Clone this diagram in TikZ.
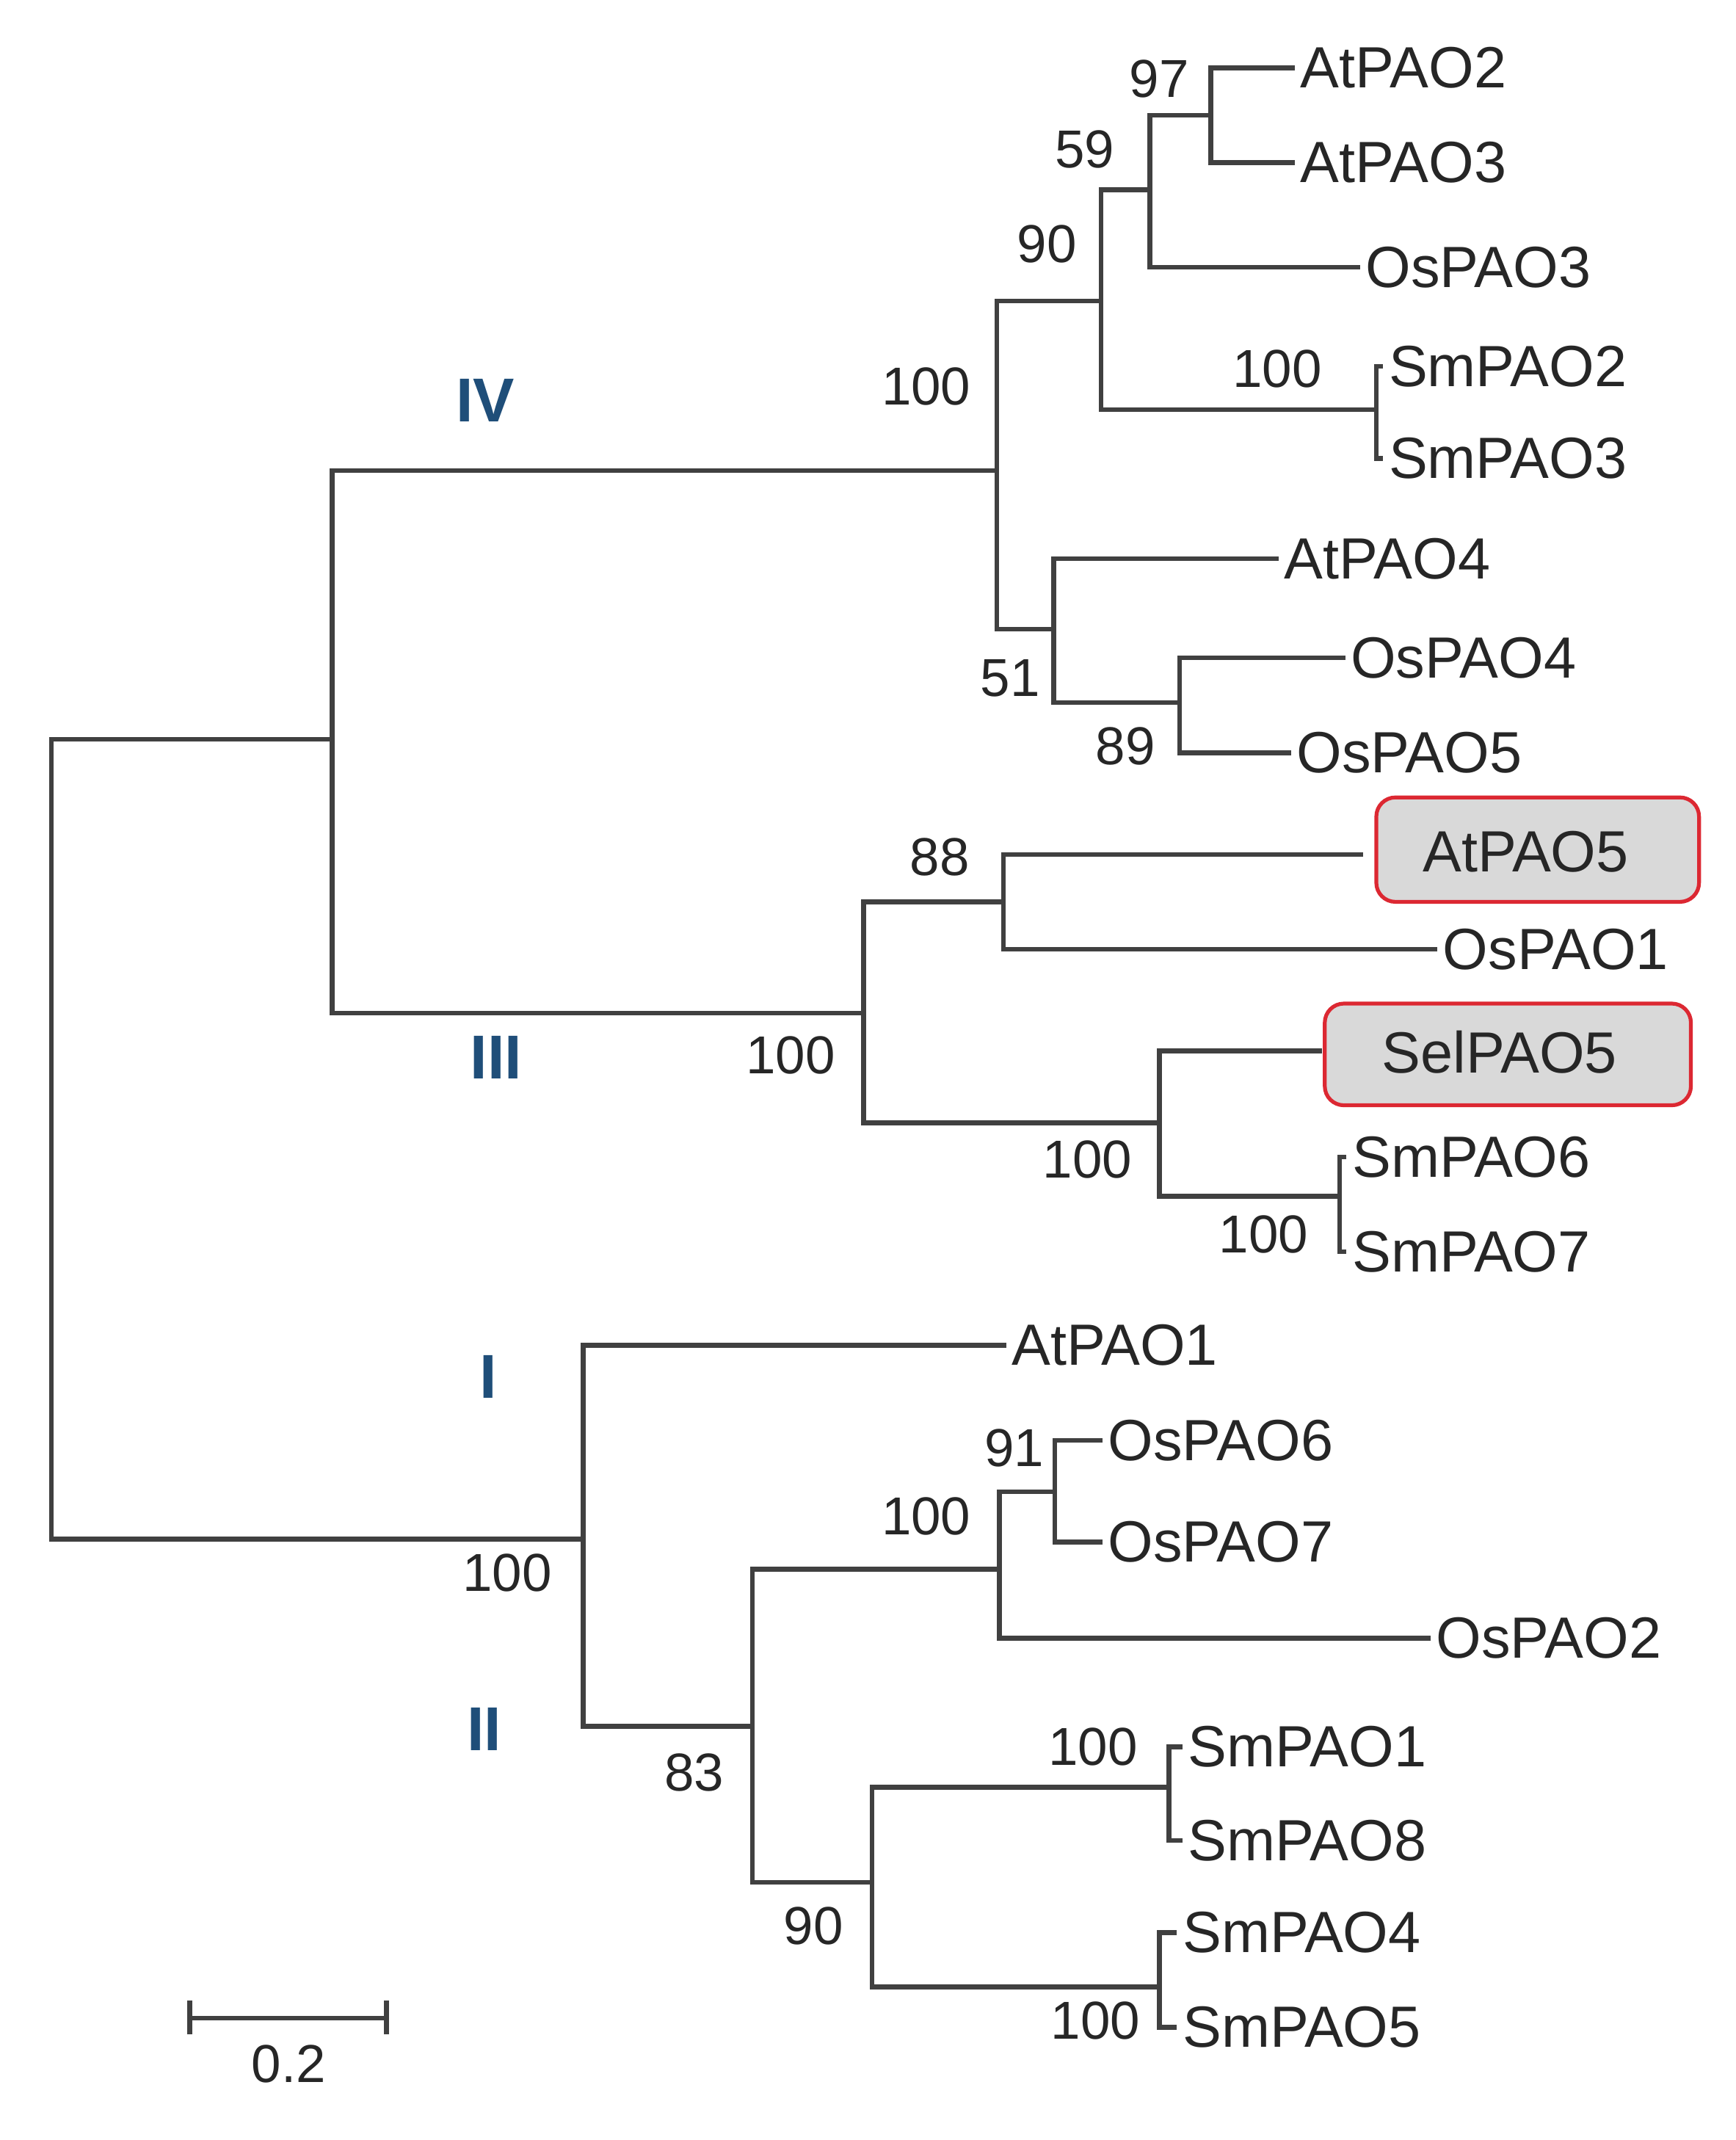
\documentclass[tikz,border=0pt]{standalone}
\usepackage{fontspec}
\setmainfont{Liberation Sans}
\begin{document}
\begin{tikzpicture}[x=0.01cm,y=-0.01cm,
  br/.style={line width=1pt,draw=black!75},
  tip/.style={anchor=west,inner sep=1pt,font=\fontsize{12.2}{14}\selectfont,text=black!85},
  bs/.style={font=\fontsize{11.2}{13}\selectfont,text=black!85,inner sep=0pt},
  cl/.style={font=\bfseries\fontsize{13}{15}\selectfont,text={rgb,255:red,31;green,78;blue,121}},
  hl/.style={draw={rgb,255:red,220;green,40;blue,50},fill=black!15,rounded corners=4pt,line width=0.8pt}]
\useasboundingbox (0,0) rectangle (1280,1578);
% highlight boxes
\draw[hl] (1015,588) rectangle (1253,665);
\draw[hl] (977,740) rectangle (1247,815);
% internal nodes (x of own vertical, y of attachment to parent)
\coordinate (r) at (38,545);
\coordinate (A) at (245,545);
\coordinate (n12) at (430,1135);
\coordinate (n4) at (735,347);
\coordinate (n3) at (637,747);
\coordinate (n90) at (812,222);
\coordinate (n51) at (777,464);
\coordinate (n59) at (848,140);
\coordinate (nsm23) at (1015,302);
\coordinate (n97) at (893,85);
\coordinate (n89) at (870,518);
\coordinate (n88) at (740,665);
\coordinate (nsel) at (855,828);
\coordinate (a5) at (1005,630);
\coordinate (s5) at (975,775);
\coordinate (nsm67) at (988,882);
\coordinate (n83) at (555,1273);
\coordinate (n100b) at (737,1157);
\coordinate (n90b) at (643,1388);
\coordinate (n91) at (778,1100);
\coordinate (nsm18) at (862,1318);
\coordinate (nsm45) at (855,1465);
% tips
\node[tip] (AtPAO2) at (955,50) {AtPAO2};
\node[tip] (AtPAO3) at (955,120) {AtPAO3};
\node[tip] (OsPAO3) at (1003,197) {OsPAO3};
\node[tip] (SmPAO2) at (1020,270) {SmPAO2};
\node[tip] (SmPAO3) at (1020,338) {SmPAO3};
\node[tip] (AtPAO4) at (943,412) {AtPAO4};
\node[tip] (OsPAO4) at (992,485) {OsPAO4};
\node[tip] (OsPAO5) at (952,555) {OsPAO5};
\node[tip] (AtPAO5) at (1045,628) {AtPAO5};
\node[tip] (OsPAO1) at (1060,700) {OsPAO1};
\node[tip] (SelPAO5) at (1015,776) {SelPAO5};
\node[tip] (SmPAO6) at (993,853) {SmPAO6};
\node[tip] (SmPAO7) at (993,923) {SmPAO7};
\node[tip] (AtPAO1) at (742,992) {AtPAO1};
\node[tip] (OsPAO6) at (813,1062) {OsPAO6};
\node[tip] (OsPAO7) at (813,1137) {OsPAO7};
\node[tip] (OsPAO2) at (1055,1208) {OsPAO2};
\node[tip] (SmPAO1) at (872,1288) {SmPAO1};
\node[tip] (SmPAO8) at (872,1357) {SmPAO8};
\node[tip] (SmPAO4) at (868,1425) {SmPAO4};
\node[tip] (SmPAO5) at (868,1495) {SmPAO5};
% branches
\draw[br] (A) -| (r) |- (n12);
\draw[br] (n4) -| (A) |- (n3);
\draw[br] (n90) -| (n4) |- (n51);
\draw[br] (n59) -| (n90) |- (nsm23);
\draw[br] (n97) -| (n59) |- (OsPAO3.west);
\draw[br] (AtPAO2.west) -| (n97) |- (AtPAO3.west);
\draw[br] (SmPAO2.west) -| (nsm23) |- (SmPAO3.west);
\draw[br] (AtPAO4.west) -| (n51) |- (n89);
\draw[br] (OsPAO4.west) -| (n89) |- (OsPAO5.west);
\draw[br] (n88) -| (n3) |- (nsel);
\draw[br] (a5) -| (n88) |- (OsPAO1.west);
\draw[br] (s5) -| (nsel) |- (nsm67);
\draw[br] (SmPAO6.west) -| (nsm67) |- (SmPAO7.west);
\draw[br] (AtPAO1.west) -| (n12) |- (n83);
\draw[br] (n100b) -| (n83) |- (n90b);
\draw[br] (n91) -| (n100b) |- (OsPAO2.west);
\draw[br] (OsPAO6.west) -| (n91) |- (OsPAO7.west);
\draw[br] (nsm18) -| (n90b) |- (nsm45);
\draw[br] (SmPAO1.west) -| (nsm18) |- (SmPAO8.west);
\draw[br] (SmPAO4.west) -| (nsm45) |- (SmPAO5.west);
% bootstrap values
\node[bs] (b1) at (855,58) {97};
\node[bs] (b2) at (800,110) {59};
\node[bs] (b3) at (772,180) {90};
\node[bs] (b4) at (683,285) {100};
\node[bs] (b5) at (942,272) {100};
\node[bs] (b6) at (745,500) {51};
\node[bs] (b7) at (830,550) {89};
\node[bs] (b8) at (693,632) {88};
\node[bs] (b9) at (583,778) {100};
\node[bs] (b10) at (802,855) {100};
\node[bs] (b11) at (932,910) {100};
\node[bs] (b12) at (374,1160) {100};
\node[bs] (b13) at (748,1068) {91};
\node[bs] (b14) at (683,1118) {100};
\node[bs] (b15) at (512,1307) {83};
\node[bs] (b16) at (600,1420) {90};
\node[bs] (b17) at (806,1288) {100};
\node[bs] (b18) at (808,1490) {100};
% clade labels
\node[cl] (cIV) at (358,295) {IV};
\node[cl] (cIII) at (366,780) {III};
\node[cl] (cI) at (360,1015) {I};
\node[cl] (cII) at (357,1275) {II};
% scale bar
\coordinate (s1) at (140,1488);
\coordinate (s2) at (285,1488);
\draw[br] (s1) -- (s2);
\draw[br] (140,1475) -- (140,1500);
\draw[br] (285,1475) -- (285,1500);
\node[bs] (sc) at (213,1522) {0.2};
\end{tikzpicture}
\end{document}
